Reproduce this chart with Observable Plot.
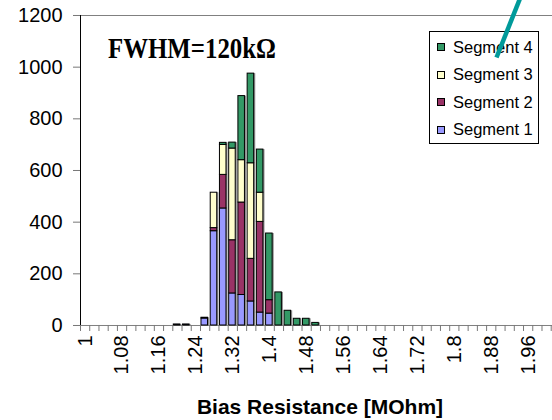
<!DOCTYPE html>
<html>
<head>
<meta charset="utf-8">
<script src="https://cdn.jsdelivr.net/npm/d3@7"></script>
<script src="https://cdn.jsdelivr.net/npm/@observablehq/plot@0.6"></script>
<style>
  html, body { margin: 0; padding: 0; background: #fff; overflow: hidden; }
  #wrap { position: relative; width: 552px; height: 420px; overflow: hidden; background: #fff; }
  #wrap > svg, #wrap > div { position: absolute; left: 0; top: 0; }
  #wrap > svg { max-width: none !important; }
  .legend { position: absolute; border: 1px solid #000; background: #fff; box-sizing: border-box;
            font-family: "Liberation Sans", Arial, sans-serif; font-size: 16.5px; color: #000; }
  .legend .row { position: absolute; left: 0; display: flex; align-items: center; height: 27.5px; white-space: nowrap; }
  .legend .sw { width: 6px; height: 6px; border: 1px solid #000; margin-left: 7px; margin-right: 8px; }
</style>
</head>
<body>
<div id="wrap"></div>
<script>
// ---- data ----
const categories = ["1","1.02","1.04","1.06","1.08","1.1","1.12","1.14","1.16","1.18",
  "1.2","1.22","1.24","1.26","1.28","1.3","1.32","1.34","1.36","1.38",
  "1.4","1.42","1.44","1.46","1.48","1.5","1.52","1.54","1.56","1.58",
  "1.6","1.62","1.64","1.66","1.68","1.7","1.72","1.74","1.76","1.78",
  "1.8","1.82","1.84","1.86","1.88","1.9","1.92","1.94","1.96","1.98","2","2.02"];
const tickLabels = ["1","1.08","1.16","1.24","1.32","1.4","1.48","1.56","1.64","1.72","1.8","1.88","1.96"];
const yTicks = [0, 200, 400, 600, 800, 1000, 1200];
const seriesNames = ["Segment 1", "Segment 2", "Segment 3", "Segment 4"];
const seriesColors = ["#9999FF", "#993366", "#FFFFCC", "#339966"];
const segment1 = [0,0,0,0,0,0,0,0,0,0, 4,4,0,27,365,453,124,118,93,50,46,0,0,0,0,0, 0,0,0,0,0,0,0,0,0,0,0,0,0,0,0,0,0,0,0,0,0,0,0,0,0,0];
const segment2 = [0,0,0,0,0,0,0,0,0,0, 0,0,0,3,12,130,206,358,165,351,52,0,0,0,0,0, 0,0,0,0,0,0,0,0,0,0,0,0,0,0,0,0,0,0,0,0,0,0,0,0,0,0];
const segment3 = [0,0,0,0,0,0,0,0,0,0, 0,0,0,0,137,116,355,164,370,113,0,0,0,0,0,0, 0,0,0,0,0,0,0,0,0,0,0,0,0,0,0,0,0,0,0,0,0,0,0,0,0,0];
const segment4 = [0,0,0,0,0,0,0,0,0,0, 0,0,0,0,0,8,23,248,347,167,258,128,57,26,26,10, 0,0,0,0,0,0,0,0,0,0,0,0,0,0,0,0,0,0,0,0,0,0,0,0,0,0];
const annotation = "FWHM=120kΩ";
const xTitle = "Bias Resistance [MOhm]";

// ---- build ----
const seriesValues = [segment1, segment2, segment3, segment4];
const rows = [];
seriesNames.forEach((s, k) => categories.forEach((c, i) => {
  if (seriesValues[k][i] > 0) rows.push({cat: c, series: s, value: seriesValues[k][i]});
}));
const totals = categories.map((c, i) => ({cat: c, total: seriesValues.reduce((a, v) => a + v[i], 0)}))
  .filter(d => d.total > 0);

const ML = 80, MR = 1, MT = 15, MB = 95, H = 420;
const bw = 9.23;
const W = ML + MR + bw * categories.length;
const font = "'Liberation Sans', Arial, sans-serif";

const chart = Plot.plot({
  width: W, height: H,
  marginLeft: ML, marginRight: MR, marginTop: MT, marginBottom: MB,
  style: {fontFamily: font, fontSize: "20px", color: "#000", background: "transparent", overflow: "visible", maxWidth: "none"},
  x: {type: "band", domain: categories, padding: 0, round: false, axis: null},
  y: {domain: [0, 1200], axis: null},
  color: {domain: seriesNames, range: seriesColors},
  marks: [
    Plot.frame({stroke: "#808080"}),
    Plot.barY(totals, {x: "cat", y: "total", fill: "#8f8f8f", dx: 1.6, insetLeft: 1, insetRight: 1.7}),
    Plot.barY(rows, {x: "cat", y: "value", z: "series", fill: "series", order: seriesNames,
      stroke: "#000", strokeWidth: 1, insetLeft: 1, insetRight: 1.7}),
    Plot.ruleX([categories[0]], {x: d => d, dx: -bw / 2, stroke: "#000"}),
    Plot.axisY({ticks: yTicks, tickSize: 7, tickPadding: 11, stroke: "#777", fill: "#000",
      tickFormat: d => String(d), label: null}),
    Plot.axisX({ticks: categories, tickSize: 6, dx: -bw / 2, stroke: "#777",
      tickFormat: () => "", label: null}),
    Plot.axisX({ticks: tickLabels, tickSize: 0, tickPadding: 10, tickRotate: -90,
      textAnchor: "end", lineAnchor: "middle", fill: "#000", label: null})
  ]
});
chart.style.maxWidth = "none";
chart.setAttribute("width", W);
chart.setAttribute("height", H);

const wrap = document.getElementById("wrap");
wrap.appendChild(chart);

// annotations overlay (text + teal pointer line)
const ns = "http://www.w3.org/2000/svg";
const ov = document.createElementNS(ns, "svg");
ov.setAttribute("width", 552); ov.setAttribute("height", 420);
ov.style.position = "absolute"; ov.style.left = "0"; ov.style.top = "0";
ov.innerHTML = `
  <text x="108" y="58" textLength="168" lengthAdjust="spacingAndGlyphs" font-family="'Liberation Serif', 'Times New Roman', serif" font-weight="bold" font-size="30" fill="#000">${annotation}</text>
  <text x="320" y="414" text-anchor="middle" font-family="${font}" font-weight="bold" font-size="21" fill="#000">${xTitle}</text>
  <line x1="521" y1="-4" x2="496.5" y2="57.5" stroke="#009a9a" stroke-width="4.5"/>`;

// legend
const lg = document.createElement("div");
lg.className = "legend";
Object.assign(lg.style, {left: "429px", top: "31px", width: "110px", height: "113px"});
[...seriesNames].reverse().forEach((s, i) => {
  const row = document.createElement("div");
  row.className = "row";
  row.style.top = (1.5 + i * 27.5) + "px";
  const sw = document.createElement("div");
  sw.className = "sw";
  sw.style.background = seriesColors[seriesNames.indexOf(s)];
  const tx = document.createElement("span");
  tx.textContent = s;
  row.appendChild(sw); row.appendChild(tx);
  lg.appendChild(row);
});
wrap.appendChild(lg);
wrap.appendChild(ov);
</script>
</body>
</html>
